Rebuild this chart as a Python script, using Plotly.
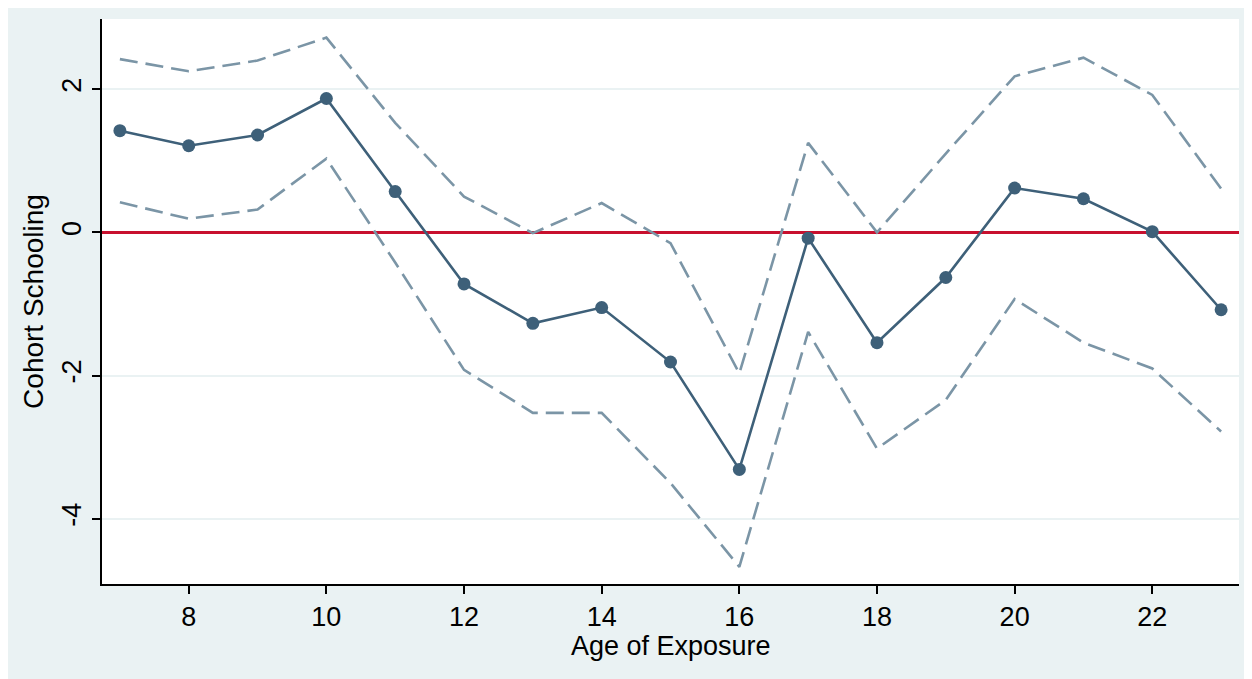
import plotly.graph_objects as go

age = [7, 8, 9, 10, 11, 12, 13, 14, 15, 16, 17, 18, 19, 20, 21, 22, 23]
estimate = [1.42, 1.21, 1.36, 1.87, 0.57, -0.72, -1.27, -1.05, -1.81, -3.31, -0.08, -1.54, -0.63, 0.62, 0.47, 0.01, -1.08]
upper_ci = [2.42, 2.25, 2.40, 2.72, 1.53, 0.50, -0.01, 0.41, -0.15, -1.97, 1.25, 0.00, 1.10, 2.18, 2.44, 1.92, 0.61]
lower_ci = [0.42, 0.19, 0.32, 1.03, -0.42, -1.92, -2.52, -2.52, -3.50, -4.67, -1.39, -3.02, -2.34, -0.93, -1.54, -1.90, -2.78]
x_ticks = [8, 10, 12, 14, 16, 18, 20, 22]
y_ticks = [-4, -2, 0, 2]
y_tick_labels = ["-4", "-2", "0", "2"]
x_title = "Age of Exposure"
y_title = "Cohort Schooling"

BG = "#EAF2F3"
MAIN = "#3E6079"
CI = "#7B95A6"
FONT = "Liberation Sans, Arial, sans-serif"

fig = go.Figure()
fig.add_trace(go.Scatter(x=age, y=upper_ci, mode="lines",
                         line=dict(color=CI, width=2.6, dash="18px,8px"),
                         showlegend=False, hoverinfo="skip"))
fig.add_trace(go.Scatter(x=age, y=lower_ci, mode="lines",
                         line=dict(color=CI, width=2.6, dash="18px,8px"),
                         showlegend=False, hoverinfo="skip"))
fig.add_trace(go.Scatter(x=age, y=estimate, mode="lines+markers",
                         line=dict(color=MAIN, width=2.6),
                         marker=dict(color=MAIN, size=13),
                         showlegend=False))

# page body has an 8px margin, so the figure is shrunk and shifted accordingly
fig.update_layout(
    width=1244, height=671,
    margin=dict(l=94, r=13, t=11, b=95),
    paper_bgcolor=BG,
    plot_bgcolor="white",
    font=dict(family=FONT, size=28, color="black"),
    xaxis=dict(
        range=[6.74, 23.26],
        tickvals=x_ticks,
        ticks="outside", ticklen=8, tickwidth=1.5, tickcolor="black",
        showline=True, linecolor="black", linewidth=1.5,
        showgrid=False, zeroline=False,
        tickfont=dict(size=27),
    ),
    yaxis=dict(
        range=[-4.91, 2.98],
        tickvals=y_ticks,
        ticktext=y_tick_labels,
        tickangle=-90,
        ticks="outside", ticklen=8, tickwidth=1.5, tickcolor="black",
        showline=True, linecolor="black", linewidth=1.5,
        showgrid=True, gridcolor=BG, gridwidth=2,
        zeroline=True, zerolinecolor="#C8102E", zerolinewidth=2.5,
        tickfont=dict(size=27),
        title=dict(text=y_title, standoff=6, font=dict(size=28)),
    ),
    annotations=[
        dict(text=x_title, xref="paper", yref="paper", x=0.5, y=0,
             xanchor="center", yanchor="middle", yshift=-62,
             showarrow=False, font=dict(size=27)),
    ],
)

fig.write_html("out.html")
